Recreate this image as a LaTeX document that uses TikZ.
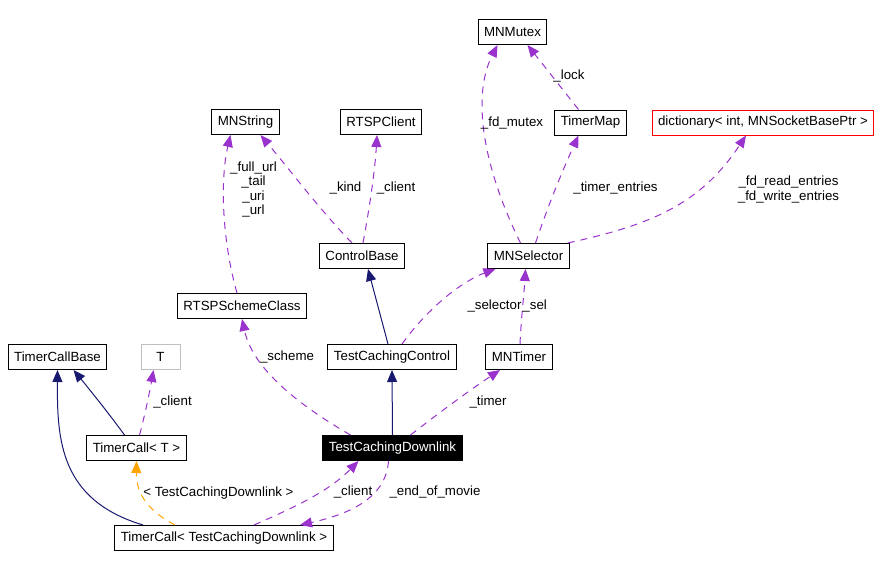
\documentclass[tikz,border=0pt]{standalone}
\usepackage{fontspec}
\setmainfont{Liberation Sans}
\usetikzlibrary{arrows.meta}
\definecolor{usecol}{HTML}{9A32CD}
\definecolor{inhcol}{HTML}{191970}
\definecolor{tplcol}{HTML}{FFA500}
\definecolor{boxgray}{HTML}{BFBFBF}

\begin{document}
\begin{tikzpicture}[x=1pt,y=-1pt,line width=1pt,
  cls/.style={draw=black,fill=white,inner xsep=6pt,inner ysep=0pt,minimum height=25pt,font=\fontsize{13.3}{14.5}\selectfont},
  clsblack/.style={cls,fill=black,text=white},
  clsgray/.style={cls,draw=boxgray,minimum width=39pt},
  clsred/.style={cls,draw=red},
  lbl/.style={inner sep=0pt,align=center,font=\fontsize{13.3}{14.5}\selectfont},
  usedge/.style={draw=usecol,dash pattern=on 7pt off 6pt,-{Triangle[length=12pt,width=10pt]}},
  inhedge/.style={draw=inhcol,-{Triangle[length=12pt,width=10pt]}},
  tpledge/.style={draw=tplcol,dash pattern=on 7pt off 6pt,-{Triangle[length=12pt,width=10pt]}}]
\useasboundingbox (0,0) rectangle (884,568);

% classes
\node[cls] (mnmutex) at (512.5,32) {MNMutex};
\node[cls] (timermap) at (590.5,122.5) {TimerMap};
\node[clsred] (dict) at (763,122.5) {dictionary< int, MNSocketBasePtr >};
\node[cls] (mnstring) at (245.5,122) {MNString};
\node[cls] (rtspclient) at (381,122) {RTSPClient};
\node[cls] (ctrlbase) at (362,256) {ControlBase};
\node[cls] (mnselector) at (528.5,256) {MNSelector};
\node[cls] (rtspscheme) at (242,306) {RTSPSchemeClass};
\node[cls] (tcctrl) at (392,357) {TestCachingControl};
\node[cls] (mntimer) at (519,357) {MNTimer};
\node[cls] (tcbase) at (57.5,357) {TimerCallBase};
\node[clsgray] (tparam) at (160.5,357) {T};
\node[cls] (tcallt) at (136.5,448) {TimerCall< T >};
\node[clsblack] (tcdown) at (392.5,448) {TestCachingDownlink};
\node[cls] (tcalldown) at (224,538) {TimerCall< TestCachingDownlink >};

% inheritance
\draw[inhedge] ([xshift=-12]tcallt.north) .. controls (110,415) and (90,390) .. ([xshift=16]tcbase.south);
\draw[inhedge] ([xshift=-81]tcalldown.north) .. controls (60,500) and (57,440) .. (tcbase.south);
\draw[inhedge] (tcdown.north) -- (tcctrl.south);
\draw[inhedge] ([xshift=-4]tcctrl.north) -- ([xshift=6]ctrlbase.south);

% template
\draw[tpledge] ([xshift=-49]tcalldown.north) .. controls (150,512) and (136,495) .. (tcallt.south);
\node[lbl] (ltpl) at (218.5,493) {< TestCachingDownlink >};

% usage
\draw[usedge] ([xshift=3]tcallt.north) .. controls (145,415) and (150,390) .. ([xshift=-7]tparam.south);
\node[lbl] (lclient1) at (172.5,402) {\_client};
\draw[usedge] ([xshift=30]tcalldown.north) .. controls (300,505) and (330,490) .. ([xshift=-34]tcdown.south);
\node[lbl] (lclient2) at (353,492) {\_client};
\draw[usedge] ([xshift=-4]tcdown.south) .. controls (386,500) and (345,515) .. ([xshift=76]tcalldown.north);
\node[lbl] (lend) at (435,492) {\_end\_of\_movie};
\draw[usedge] ([xshift=-42]tcdown.north) .. controls (290,400) and (252,365) .. (rtspscheme.south);
\node[lbl] (lscheme) at (287,357) {\_scheme};
\draw[usedge] ([xshift=18]tcdown.north) .. controls (440,412) and (470,390) .. ([xshift=-19]mntimer.south);
\node[lbl] (ltimer) at (488,402) {\_timer};
\draw[usedge] ([xshift=1]mntimer.north) .. controls (521,320) and (524,295) .. ([xshift=-3]mnselector.south);
\draw[usedge] ([xshift=10]tcctrl.north) .. controls (430,305) and (465,280) .. ([xshift=-33]mnselector.south);
\node[lbl,anchor=west] (lselector) at (467,306) {\_selector};
\node[lbl,anchor=west] (lsel) at (lselector.east) {\_sel};
\draw[usedge] ([xshift=-10]ctrlbase.north) .. controls (320,210) and (290,170) .. ([xshift=15]mnstring.south);
\node[lbl] (lkind) at (345.5,188) {\_kind};
\draw[usedge] ([xshift=1]ctrlbase.north) .. controls (370,205) and (375,170) .. ([xshift=-4]rtspclient.south);
\node[lbl] (lclient3) at (396,188) {\_client};
\draw[usedge] ([xshift=-5]rtspscheme.north) .. controls (222,240) and (220,180) .. ([xshift=-15]mnstring.south);
\node[lbl] (lurl) at (253.5,189.5) {\_full\_url\\\_tail\\\_uri\\\_url};
\draw[usedge] ([xshift=-8]mnselector.north) .. controls (482,165) and (472,95) .. ([xshift=-15]mnmutex.south);
\node[lbl] (lfdmutex) at (512,123) {\_fd\_mutex};
\draw[usedge] ([xshift=-12]timermap.north) -- ([xshift=15]mnmutex.south);
\node[lbl] (llock) at (569,76) {\_lock};
\draw[usedge] ([xshift=7]mnselector.north) .. controls (550,200) and (565,165) .. ([xshift=-12]timermap.south);
\node[lbl] (ltentries) at (615.5,188) {\_timer\_entries};
\draw[usedge] ([xshift=-2]mnselector.north east) .. controls (650,225) and (700,205) .. ([xshift=-17]dict.south);
\node[lbl] (lfdentries) at (788.5,189.5) {\_fd\_read\_entries\\\_fd\_write\_entries};
\end{tikzpicture}
\end{document}
